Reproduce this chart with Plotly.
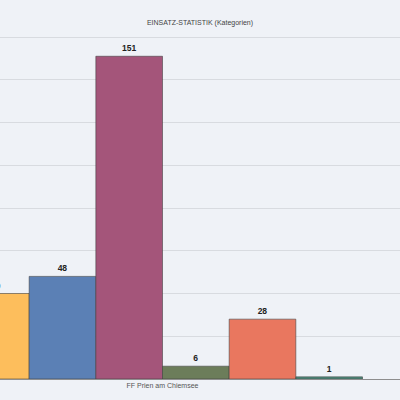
import plotly.graph_objects as go

categories = ["FF Prien am Chiemsee"]
series_names = ["Brand", "Technische Hilfe", "Sicherheitswache", "Fehlalarm", "Sonstige", "Gefahrgut"]
series_values = [40, 48, 151, 6, 28, 1]
bar_colors = ["#FDBE5C", "#5B80B5", "#A4557A", "#6C7D5A", "#E9775F", "#4E8C7C"]

fig = go.Figure()
for name, value, color in zip(series_names, series_values, bar_colors):
    fig.add_trace(
        go.Bar(
            name=name,
            x=categories,
            y=[value],
            text=[str(value)],
            textposition="outside",
            textfont=dict(family="Liberation Sans", size=8.5, color="#222", weight="bold"),
            marker=dict(color=color, line=dict(color="rgba(60,60,60,0.55)", width=1)),
        )
    )

fig.update_layout(
    width=400,
    height=400,
    barmode="group",
    bargap=0.2,
    bargroupgap=0,
    showlegend=False,
    paper_bgcolor="#EFF2F7",
    plot_bgcolor="#EFF2F7",
    margin=dict(l=0, r=0, t=35, b=21),
    title=dict(
        text="EINSATZ-STATISTIK (Kategorien)",
        x=0.5,
        xanchor="center",
        y=1 - 23 / 400,
        yanchor="middle",
        font=dict(family="Liberation Sans", size=7, color="#444"),
    ),
)
fig.update_xaxes(
    range=[-0.325, 0.475],
    showgrid=False,
    showline=True,
    linecolor="#8E8E8E",
    linewidth=1,
    tickfont=dict(family="Liberation Sans", size=7, color="#555"),
    ticklen=0,
)
fig.update_yaxes(
    range=[0, 160.94],
    dtick=20,
    showticklabels=False,
    gridcolor="#D8DBE0",
    gridwidth=1,
    zeroline=False,
)

fig.write_html(
    "out.html",
    config={"displayModeBar": False},
    post_script="document.body.style.margin='0';",
)
